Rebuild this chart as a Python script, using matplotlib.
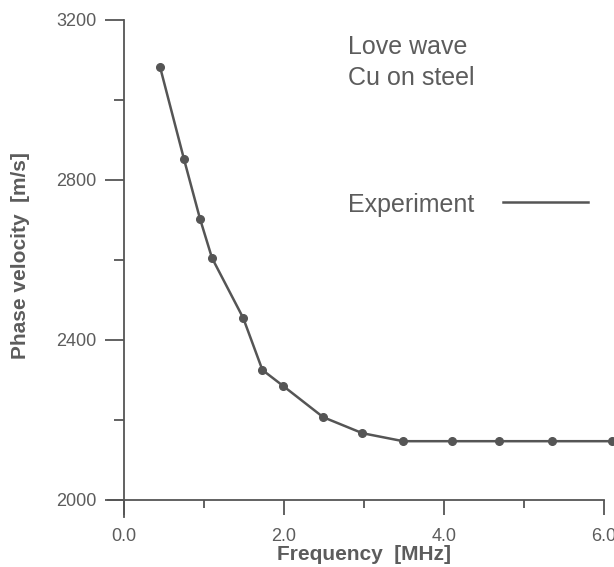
import matplotlib.pyplot as plt

# --- Data (Love wave, Cu on steel) ---
freq_mhz = [0.45, 0.75, 0.95, 1.10, 1.49, 1.73, 1.99, 2.49, 2.98, 3.49, 4.10, 4.69, 5.35, 6.10]
phase_vel = [3083, 2852, 2703, 2605, 2455, 2325, 2285, 2207, 2167, 2147, 2147, 2147, 2147, 2147]

x_major = [0.0, 2.0, 4.0, 6.0]
x_minor = [1.0, 3.0, 5.0]
y_major = [2000, 2400, 2800, 3200]
y_minor = [2200, 2600, 3000]

INK = '#555555'
TEXT = '#5c5c5c'

plt.rcParams['font.family'] = ['Liberation Sans', 'DejaVu Sans']

fig = plt.figure(figsize=(6.14, 5.67), dpi=100)
ax = fig.add_axes([0.1759, 0.0829, 0.8339, 0.8889])

ax.plot(freq_mhz, phase_vel, color=INK, lw=1.8, marker='o', ms=5.5,
        clip_on=False, zorder=3)

ax.set_xlim(-0.2, 6.2)
ax.set_ylim(1950, 3210)

# cross-style axes, like the scanned figure
for side in ('top', 'right'):
    ax.spines[side].set_visible(False)
ax.spines['left'].set_position(('data', 0))
ax.spines['bottom'].set_position(('data', 2000))
ax.spines['left'].set_bounds(1957, 3200)
ax.spines['bottom'].set_bounds(-0.2, 6.0)
for s in ('left', 'bottom'):
    ax.spines[s].set_color(INK)
    ax.spines[s].set_linewidth(1.3)

ax.set_xticks(x_major)
ax.set_xticks(x_minor, minor=True)
ax.set_xticklabels([f'{v:.1f}' for v in x_major])
ax.set_yticks(y_major)
ax.set_yticks(y_minor, minor=True)
ax.set_yticklabels([str(v) for v in y_major])

ax.tick_params(axis='x', which='major', direction='out', length=11, width=1.3,
               color=INK, labelcolor=TEXT, labelsize=13, pad=9)
ax.tick_params(axis='x', which='minor', direction='out', length=6, width=1.3, color=INK)
ax.tick_params(axis='y', which='major', direction='out', length=14, width=1.3,
               color=INK, labelcolor=TEXT, labelsize=13, pad=6)
ax.tick_params(axis='y', which='minor', direction='out', length=7, width=1.3, color=INK)

ax.set_xlabel('Frequency  [MHz]', fontsize=15, fontweight='bold', color=TEXT, labelpad=0)
ax.set_ylabel('Phase velocity  [m/s]', fontsize=15, fontweight='bold', color=TEXT)
ax.xaxis.set_label_coords(0.5, -0.05)
ax.yaxis.set_label_coords(-0.152, 0.524)

# annotation text and hand-drawn legend
ax.text(0.469, 0.938, 'Love wave', transform=ax.transAxes,
        fontsize=18, color=TEXT, va='center', ha='left')
ax.text(0.469, 0.877, 'Cu on steel', transform=ax.transAxes,
        fontsize=18, color=TEXT, va='center', ha='left')
ax.text(0.469, 0.625, 'Experiment', transform=ax.transAxes,
        fontsize=18, color=TEXT, va='center', ha='left')
ax.plot([0.771, 0.9375], [0.631, 0.631], transform=ax.transAxes,
        color=INK, lw=1.8, clip_on=False)

fig.savefig('out.png', dpi=100, facecolor='white')
